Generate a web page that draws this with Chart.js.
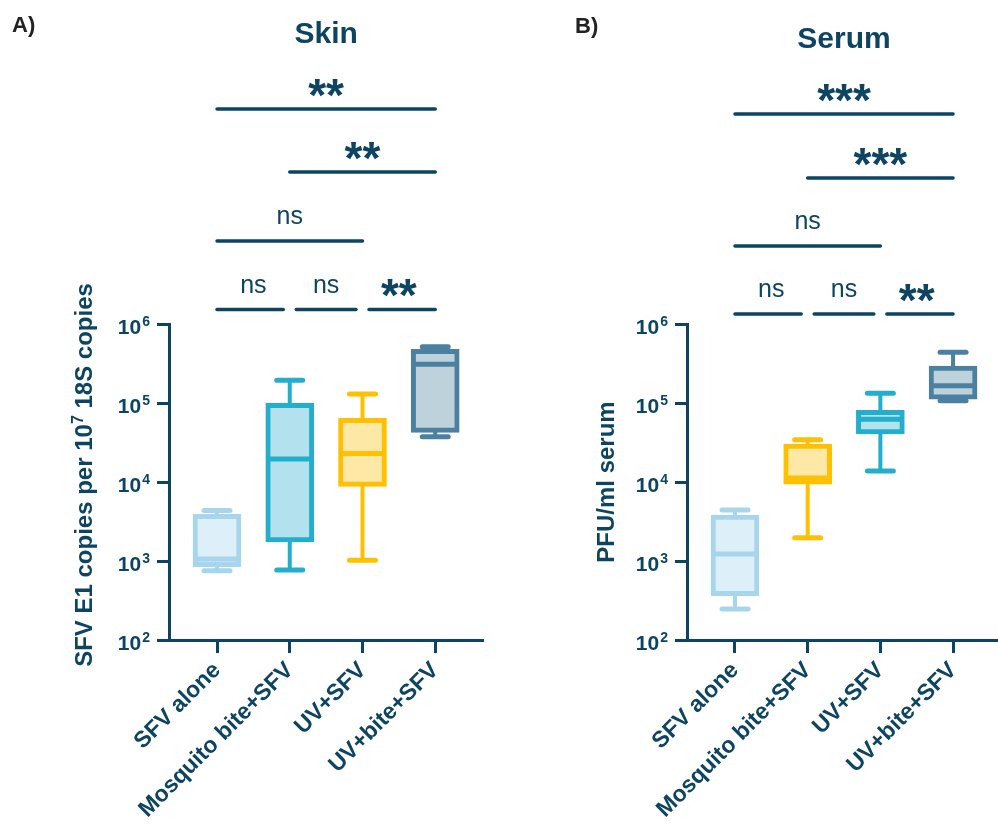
<!DOCTYPE html>
<html>
<head>
<meta charset="utf-8">
<script src="https://cdn.jsdelivr.net/npm/chart.js@4.4.1/dist/chart.umd.min.js"></script>
<style>
  html, body { margin: 0; padding: 0; background: #ffffff; overflow: hidden; }
  #wrap { position: relative; width: 998px; height: 827px; overflow: hidden; background: #ffffff; }
  canvas { position: absolute; top: 0; }
  #skin { left: 0; }
  #serum { left: 499px; }
</style>
</head>
<body>
<div id="wrap">
  <canvas id="skin" width="499" height="827"></canvas>
  <canvas id="serum" width="520" height="827"></canvas>
</div>
<script>
// ---- groups and axis ticks ----
const categories = ['SFV alone', 'Mosquito bite+SFV', 'UV+SFV', 'UV+bite+SFV'];
const yTickValues = [1e2, 1e3, 1e4, 1e5, 1e6];

// ---- Skin: SFV E1 copies per 10^7 18S copies (min, Q1, median, Q3, max) ----
const skinMin    = [750, 770, 1020, 37500];
const skinQ1     = [850, 1750, 8800, 42500];
const skinMedian = [1060, 19500, 23000, 309000];
const skinQ3     = [3900, 99000, 64000, 478000];
const skinMax    = [4350, 194000, 130000, 516000];

// ---- Serum: PFU/ml serum (min, Q1, median, Q3, max) ----
const serumMin    = [247, 1970, 13800, 107000];
const serumQ1     = [365, 9400, 40500, 112000];
const serumMedian = [1230, 11200, 62500, 165000];
const serumQ3     = [3800, 30300, 81000, 294000];
const serumMax    = [4430, 34300, 132500, 438000];

// ---- pairwise comparisons and their significance ----
const comparisonPairs = [[0, 1], [1, 2], [2, 3], [0, 2], [1, 3], [0, 3]];
const comparisonLevels = [0, 0, 0, 1, 2, 3];
const skinSignificance  = ['ns', 'ns', '**', 'ns', '**', '**'];
const serumSignificance = ['ns', 'ns', '**', 'ns', '***', '***'];

// ---- styling ----
const NAVY = '#0d4461';
const FONT = '"Liberation Sans", Arial, Helvetica, sans-serif';
const PALETTE = {
  light:  { stroke: '#a6d5ec', fill: '#ddeff8' },
  teal:   { stroke: '#23aecb', fill: '#b3e2ee' },
  yellow: { stroke: '#ffc000', fill: '#fee8a6' },
  slate:  { stroke: '#4b80a0', fill: '#bed2dc' }
};

const panels = {
  skin: {
    letter: 'A)', title: 'Skin',
    yTitle: [{ t: 'SFV E1 copies per 10' }, { t: '7', sup: true }, { t: ' 18S copies' }],
    min: skinMin, q1: skinQ1, median: skinMedian, q3: skinQ3, max: skinMax,
    signif: skinSignificance,
    colors: [PALETTE.light, PALETTE.teal, PALETTE.yellow, PALETTE.slate],
    axisLeft: 169, padRight: 15.4,
    letterPos: [12, 32], titleBaseline: 43, yTitlePos: [92, 475],
    levelOffsets: [-14.5, -83, -152, -215]
  },
  serum: {
    letter: 'B)', title: 'Serum',
    yTitle: [{ t: 'PFU/ml serum' }],
    min: serumMin, q1: serumQ1, median: serumMedian, q3: serumQ3, max: serumMax,
    signif: serumSignificance,
    colors: [PALETTE.light, PALETTE.yellow, PALETTE.teal, PALETTE.slate],
    axisLeft: 188, padRight: 17.6,
    letterPos: [76, 33], titleBaseline: 48, yTitlePos: [115, 482],
    levelOffsets: [-10, -78, -146, -210]
  }
};

function strokeLine(ctx, x1, y1, x2, y2) {
  ctx.beginPath();
  ctx.moveTo(x1, y1);
  ctx.lineTo(x2, y2);
  ctx.stroke();
}

// Whiskers, medians, titles, tick labels with exponents and significance bars.
function panelDecor(p) {
  return {
    id: 'panelDecor',
    beforeDatasetsDraw(chart) {
      const { ctx, scales: { x, y } } = chart;
      ctx.save();
      ctx.lineCap = 'round';
      categories.forEach((_, i) => {
        const cx = x.getPixelForValue(i);
        ctx.strokeStyle = p.colors[i].stroke;
        const yMax = y.getPixelForValue(p.max[i]);
        const yMin = y.getPixelForValue(p.min[i]);
        ctx.lineWidth = 4;
        strokeLine(ctx, cx, y.getPixelForValue(p.q3[i]), cx, yMax);
        strokeLine(ctx, cx, y.getPixelForValue(p.q1[i]), cx, yMin);
        ctx.lineWidth = 5;
        strokeLine(ctx, cx - 13, yMax, cx + 13, yMax);
        strokeLine(ctx, cx - 13, yMin, cx + 13, yMin);
      });
      ctx.restore();
    },
    afterDatasetsDraw(chart) {
      const { ctx, scales: { x, y } } = chart;
      ctx.save();
      ctx.lineCap = 'butt';
      ctx.lineWidth = 5;
      categories.forEach((_, i) => {
        const cx = x.getPixelForValue(i);
        const ym = y.getPixelForValue(p.median[i]);
        ctx.strokeStyle = p.colors[i].stroke;
        strokeLine(ctx, cx - 22, ym, cx + 22, ym);
      });
      ctx.restore();
    },
    afterDraw(chart) {
      const { ctx, chartArea, scales: { x, y } } = chart;
      ctx.save();
      ctx.fillStyle = NAVY;
      ctx.textBaseline = 'alphabetic';

      // y tick labels as powers of ten
      yTickValues.forEach(v => {
        const py = y.getPixelForValue(v);
        const exp = String(Math.round(Math.log10(v)));
        ctx.font = `bold 21px ${FONT}`;
        const wBase = ctx.measureText('10').width;
        ctx.font = `bold 14px ${FONT}`;
        const wExp = ctx.measureText(exp).width;
        const right = chartArea.left - 19;
        ctx.textAlign = 'left';
        ctx.font = `bold 21px ${FONT}`;
        ctx.fillText('10', right - wExp - wBase - 1, py + 10);
        ctx.font = `bold 14px ${FONT}`;
        ctx.fillText(exp, right - wExp, py + 2);
      });

      // rotated y-axis title
      ctx.save();
      ctx.translate(p.yTitlePos[0], p.yTitlePos[1]);
      ctx.rotate(-Math.PI / 2);
      const fontMain = `bold 24px ${FONT}`;
      const fontSup = `bold 16px ${FONT}`;
      let total = 0;
      p.yTitle.forEach(seg => { ctx.font = seg.sup ? fontSup : fontMain; total += ctx.measureText(seg.t).width; });
      let tx = -total / 2;
      ctx.textAlign = 'left';
      p.yTitle.forEach(seg => {
        ctx.font = seg.sup ? fontSup : fontMain;
        ctx.fillText(seg.t, tx, seg.sup ? -9 : 0);
        tx += ctx.measureText(seg.t).width;
      });
      ctx.restore();

      // panel letter and title
      ctx.fillStyle = '#222222';
      ctx.font = `bold 22px ${FONT}`;
      ctx.textAlign = 'left';
      ctx.fillText(p.letter, p.letterPos[0], p.letterPos[1]);
      ctx.fillStyle = NAVY;
      ctx.font = `bold 30px ${FONT}`;
      ctx.textAlign = 'center';
      const xFirst = x.getPixelForValue(0);
      const xLast = x.getPixelForValue(categories.length - 1);
      ctx.fillText(p.title, (xFirst + xLast) / 2, p.titleBaseline);

      // significance bars
      ctx.strokeStyle = NAVY;
      ctx.lineWidth = 3.5;
      ctx.lineCap = 'round';
      comparisonPairs.forEach(([a, b], k) => {
        const lvl = comparisonLevels[k];
        const ly = chartArea.top + p.levelOffsets[lvl];
        const sharedA = comparisonPairs.some(([c, d], j) => j !== k && comparisonLevels[j] === lvl && d === a);
        const sharedB = comparisonPairs.some(([c, d], j) => j !== k && comparisonLevels[j] === lvl && c === b);
        const xa = x.getPixelForValue(a);
        const xb = x.getPixelForValue(b);
        strokeLine(ctx, xa + (sharedA ? 6.5 : 0), ly, xb - (sharedB ? 6.5 : 0), ly);
        const label = p.signif[k];
        const star = label.includes('*');
        ctx.font = star ? `bold 46px ${FONT}` : `25px ${FONT}`;
        const m = ctx.measureText(label);
        const cy = ly - (star ? 21.5 : 24);
        const base = cy + (m.actualBoundingBoxAscent - m.actualBoundingBoxDescent) / 2;
        ctx.textAlign = 'center';
        ctx.fillText(label, (xa + xb) / 2, base);
      });
      ctx.restore();
    }
  };
}

function buildPanel(canvasId, p) {
  return new Chart(document.getElementById(canvasId), {
    type: 'bar',
    data: {
      datasets: [{
        data: categories.map((_, i) => ({ x: i, y: [p.q1[i], p.q3[i]] })),
        backgroundColor: p.colors.map(c => c.fill),
        borderColor: p.colors.map(c => c.stroke),
        borderWidth: 5,
        borderSkipped: false,
        barThickness: 48
      }]
    },
    options: {
      responsive: false,
      devicePixelRatio: 1,
      animation: false,
      events: [],
      layout: { padding: { top: 324, left: 0, right: p.padRight, bottom: 0 } },
      plugins: { legend: { display: false }, tooltip: { enabled: false }, title: { display: false } },
      scales: {
        x: {
          type: 'linear',
          offset: false,
          min: -0.66, max: 3.665,
          afterBuildTicks: s => { s.ticks = categories.map((_, i) => ({ value: i })); },
          afterFit: s => { s.height = 187; },
          ticks: {
            callback: v => categories[v],
            autoSkip: false,
            minRotation: 45, maxRotation: 45,
            color: NAVY,
            padding: 4,
            font: { family: FONT, size: 23, weight: 'bold' }
          },
          grid: { offset: false, drawOnChartArea: false, drawTicks: true, tickLength: 13, tickWidth: 3, tickColor: NAVY },
          border: { display: true, color: NAVY, width: 3 }
        },
        y: {
          type: 'logarithmic',
          min: 1e2, max: 1e6,
          afterBuildTicks: s => { s.ticks = yTickValues.map(v => ({ value: v })); },
          afterFit: s => { s.width = p.axisLeft; },
          ticks: { callback: () => '', autoSkip: false },
          grid: { drawOnChartArea: false, drawTicks: true, tickLength: 12, tickWidth: 3, tickColor: NAVY },
          border: { display: true, color: NAVY, width: 3 }
        }
      }
    },
    plugins: [panelDecor(p)]
  });
}

buildPanel('skin', panels.skin);
buildPanel('serum', panels.serum);
</script>
</body>
</html>
